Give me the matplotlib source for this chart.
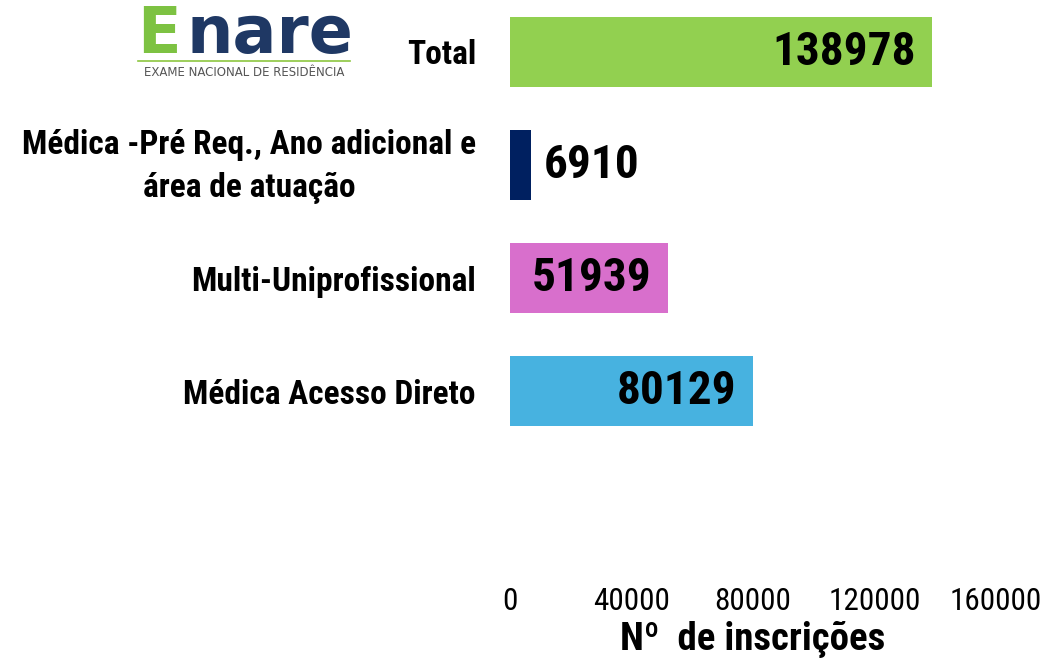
import matplotlib
matplotlib.use("Agg")
import matplotlib.pyplot as plt

COND = ["Roboto Condensed", "DejaVu Sans"]

categories = ["Médica Acesso Direto", "Multi-Uniprofissional",
              "Médica -Pré Req., Ano adicional e\nárea de atuação", "Total"]
values = [80129, 51939, 6910, 138978]
colors = ["#47B2E0", "#D86FCC", "#002060", "#92D050"]
xticks = [0, 40000, 80000, 120000, 160000]

fig = plt.figure(figsize=(10.5, 6.69), dpi=100)
ax = fig.add_axes([510/1050, 89/669, 486/1050, 580/669])
ypos = list(range(len(categories)))
ax.barh(ypos, values, height=0.62, color=colors)
ax.set_xlim(0, 160000)
ax.set_ylim(-1.67, 3.46)
ax.set_yticks(ypos)
ax.set_yticklabels([""] * len(categories))
ax.tick_params(axis="y", length=0)
for y, cat in zip(ypos, categories):
    dy = -1 if "\n" in cat else -2.5
    ax.annotate(cat, (0, y), xycoords=("axes fraction", "data"),
                xytext=(-24.5, dy), textcoords="offset points",
                ha="right", va="center", ma="center", linespacing=1.45,
                fontsize=24, fontweight="bold", family=COND)
ax.set_xticks(xticks)
ax.set_xticklabels([str(t) for t in xticks], fontsize=22.5, family=COND)
ax.tick_params(axis="x", length=0, pad=5)
for s in ax.spines.values():
    s.set_visible(False)
ax.set_xlabel("Nº  de inscrições", fontsize=28, fontweight="bold",
              family=COND, labelpad=4)

for y, v in zip(ypos, values):
    if v > 20000:
        ax.annotate(str(v), (v, y), xytext=(-12, 0), textcoords="offset points",
                    ha="right", va="center", fontsize=34, fontweight="bold",
                    family=COND, color="black")
    else:
        ax.annotate(str(v), (v, y), xytext=(9, 0), textcoords="offset points",
                    ha="left", va="center", fontsize=34, fontweight="bold",
                    family=COND, color="black")

# logo
fig.text(137/1050, 1 - 35/669, "E", color="#7DC242", fontsize=46, fontweight="bold",
         family="DejaVu Sans", va="center", ha="left")
fig.text(186/1050, 1 - 35/669, "nare", color="#1F3864", fontsize=47, fontweight="bold",
         family="DejaVu Sans", va="center", ha="left")
fig.add_artist(plt.Line2D([138/1050, 350/1050], [1 - 61/669, 1 - 61/669],
                          color="#8CC63F", lw=1.2, transform=fig.transFigure))
fig.text(244/1050, 1 - 73/669, "EXAME NACIONAL DE RESIDÊNCIA", color="#555555",
         fontsize=8.5, family="DejaVu Sans", va="center", ha="center")

fig.savefig("out.png", dpi=100)
